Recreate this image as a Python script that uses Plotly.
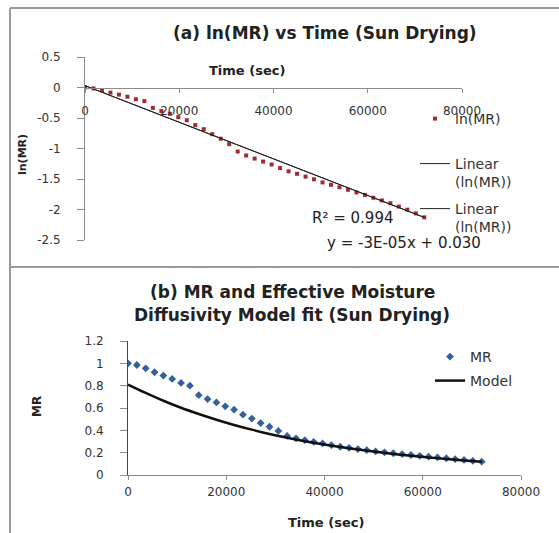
import numpy as np
import plotly.graph_objects as go

# ---------------- data ----------------
time_s = [0, 1800, 3600, 5400, 7200, 9000, 10800, 12600, 14400, 16200,
          18000, 19800, 21600, 23400, 25200, 27000, 28800, 30600, 32400, 34200,
          36000, 37800, 39600, 41400, 43200, 45000, 46800, 48600, 50400, 52200,
          54000, 55800, 57600, 59400, 61200, 63000, 64800, 66600, 68400, 70200,
          72000]
mr = [1.000, 0.985, 0.955, 0.920, 0.890, 0.860, 0.825, 0.800, 0.715, 0.680,
      0.650, 0.615, 0.585, 0.540, 0.505, 0.465, 0.432, 0.395, 0.350, 0.328,
      0.312, 0.297, 0.283, 0.267, 0.253, 0.243, 0.232, 0.222, 0.211, 0.203,
      0.195, 0.187, 0.179, 0.172, 0.164, 0.157, 0.150, 0.142, 0.135, 0.127,
      0.119]

model_time = [0, 3600, 7200, 10800, 14400, 18000, 21600, 25200, 28800, 32400,
              36000, 39600, 43200, 46800, 50400, 54000, 57600, 61200, 64800,
              68400, 72000]
model_mr = [0.810, 0.735, 0.665, 0.602, 0.546, 0.495, 0.448, 0.406, 0.368, 0.334,
            0.303, 0.276, 0.251, 0.228, 0.208, 0.189, 0.172, 0.157, 0.143,
            0.130, 0.118]

# linear trendline as printed on the chart
trend_slope = -3e-05
trend_intercept = 0.030

xa_ticks = [0, 20000, 40000, 60000, 80000]
xa_text = ["0", "20000", "40000", "60000", "80000"]
ya_ticks = [-2.5, -2, -1.5, -1, -0.5, 0, 0.5]
ya_text = ["-2.5", "-2", "-1.5", "-1", "-0.5", "0", "0.5"]
yb_ticks = [0, 0.2, 0.4, 0.6, 0.8, 1, 1.2]
yb_text = ["0", "0.2", "0.4", "0.6", "0.8", "1", "1.2"]

r2_text = "R² = 0.994"
eq_text = "y = -3E-05x + 0.030"

# derived series
ln_mr = np.log(np.array(mr))
trend_x = [min(time_s), max(time_s)]
trend_y = [trend_intercept + trend_slope * t for t in trend_x]

# ---------------- layout helpers ----------------
W, H = 559, 533
def px(x):
    return x / W
def py(y):
    return 1 - y / H

FONT = "DejaVu Sans"
TXT = "#333333"
AX = "#8c8c8c"

fig = go.Figure()

# panel (a)
fig.add_trace(go.Scatter(x=time_s, y=ln_mr, mode="markers", name="ln(MR)",
                         marker=dict(symbol="square", size=4, color="#A32B2E"),
                         xaxis="x", yaxis="y", legend="legend"))
fig.add_trace(go.Scatter(x=trend_x, y=trend_y, mode="lines", name="Linear<br>(ln(MR))",
                         line=dict(color="#222222", width=1),
                         xaxis="x", yaxis="y", legend="legend2"))
fig.add_trace(go.Scatter(x=trend_x, y=trend_y, mode="lines", name="Linear<br>(ln(MR))",
                         line=dict(color="#222222", width=1),
                         xaxis="x", yaxis="y", legend="legend3"))

# panel (b)
fig.add_trace(go.Scatter(x=time_s, y=mr, mode="markers", name="MR",
                         marker=dict(symbol="diamond", size=6, color="#34609E"),
                         xaxis="x2", yaxis="y2", legend="legend4"))
fig.add_trace(go.Scatter(x=model_time, y=model_mr, mode="lines", name="Model",
                         line=dict(color="#111111", width=2.5, shape="spline"),
                         xaxis="x2", yaxis="y2", legend="legend5"))

ya_dom = [py(240), py(57)]
ya_rng = [-2.5, 0.5]
x_cross = ya_dom[0] + (0 - ya_rng[0]) / (ya_rng[1] - ya_rng[0]) * (ya_dom[1] - ya_dom[0])

tickfont = dict(family=FONT, size=12, color=TXT)
legfont = dict(family=FONT, size=14, color=TXT)

def leg(x, y, **kw):
    return dict(x=px(x), y=py(y), xanchor="left", yanchor="top", font=legfont,
                bgcolor="rgba(0,0,0,0)", borderwidth=0, **kw)

fig.update_layout(
    width=W, height=H,
    margin=dict(l=0, r=0, t=0, b=0, autoexpand=False),
    paper_bgcolor="white", plot_bgcolor="rgba(0,0,0,0)",
    showlegend=True,
    xaxis=dict(domain=[px(85), px(462)], range=[0, 80000], anchor="free", position=x_cross,
               showline=True, linecolor=AX, linewidth=1, ticks="outside", ticklen=4,
               tickcolor=AX, tickvals=xa_ticks, ticktext=xa_text, tickfont=tickfont,
               showgrid=False, zeroline=False, ticklabelstandoff=8, automargin=False),
    yaxis=dict(domain=ya_dom, range=ya_rng, anchor="x", showline=True, linecolor=AX,
               linewidth=1, ticks="outside", ticklen=7, tickcolor=AX,
               tickvals=ya_ticks, ticktext=ya_text, tickfont=tickfont,
               showgrid=False, zeroline=False, ticklabelstandoff=14, automargin=False),
    xaxis2=dict(domain=[px(128), px(521)], range=[0, 80000], anchor="y2",
                showline=True, linecolor=AX, linewidth=1, ticks="outside", ticklen=4,
                tickcolor=AX, tickvals=xa_ticks, ticktext=xa_text, tickfont=tickfont,
                showgrid=False, zeroline=False, ticklabelstandoff=2, automargin=False),
    yaxis2=dict(domain=[py(475), py(341)], range=[0, 1.2], anchor="x2", showline=True,
                linecolor="#444444", linewidth=1, ticks="outside", ticklen=7, tickcolor=AX,
                tickvals=yb_ticks, ticktext=yb_text, tickfont=tickfont,
                showgrid=False, zeroline=False, ticklabelstandoff=14, automargin=False),
    legend=leg(415, 103),
    legend2=leg(415, 148, valign="top"),
    legend3=leg(415, 193, valign="top"),
    legend4=leg(430, 341),
    legend5=leg(430, 365),
)

def ann(text, x, y, size, bold=False, angle=0, xanchor="center"):
    fig.add_annotation(text=f"<b>{text}</b>" if bold else text, x=px(x), y=py(y),
                       xref="paper", yref="paper", showarrow=False, textangle=angle,
                       xanchor=xanchor, yanchor="middle",
                       font=dict(family=FONT, size=size, color="#222222"))

ann("(a) ln(MR) vs Time (Sun Drying)", 325, 33, 17, bold=True)
ann("Time (sec)", 247, 70, 13, bold=True)
ann("ln(MR)", 22, 155, 11, bold=True, angle=-90)
ann(r2_text, 352, 218, 15)
ann(eq_text, 404, 243, 15)

ann("(b) MR and Effective Moisture", 292, 292, 17, bold=True)
ann("Diffusivity Model fit (Sun Drying)", 292, 315, 17, bold=True)
ann("Time (sec)", 326, 522, 13, bold=True)
ann("MR", 37, 407, 12, bold=True, angle=-90)

# chart-area frame lines
for (x0, y0, x1, y1) in [(10, 8, 10, 533), (10, 8, 559, 8), (10, 267, 559, 267)]:
    fig.add_shape(type="line", xref="paper", yref="paper",
                  x0=px(x0), y0=py(y0), x1=px(x1), y1=py(y1),
                  line=dict(color="#9a9a9a", width=2))

fig.write_html("out.html", config={"displayModeBar": False},
               post_script="document.body.style.margin='0';document.body.style.overflow='hidden';")
